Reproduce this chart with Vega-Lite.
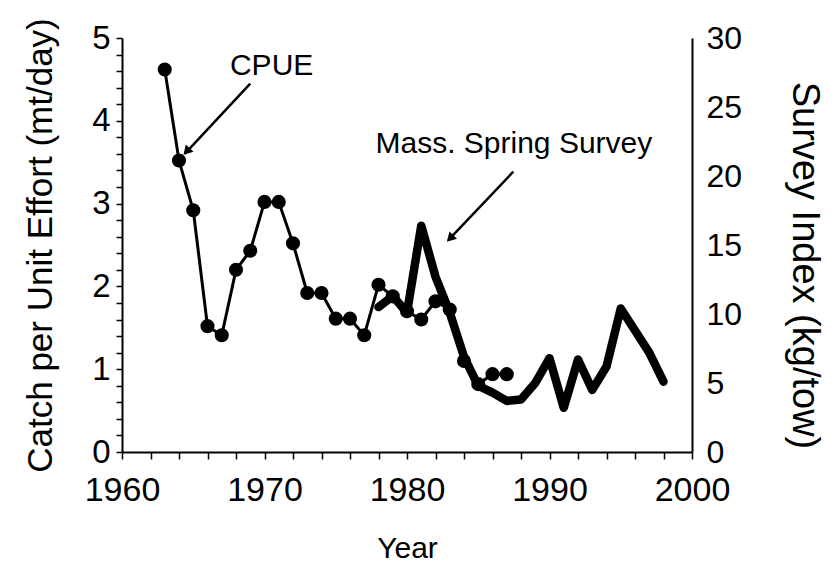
{
  "$schema": "https://vega.github.io/schema/vega-lite/v6.json",
  "width": 570,
  "height": 414,
  "autosize": "none",
  "padding": {"left": 122, "top": 38, "right": 144, "bottom": 111},
  "background": "white",
  "config": {
    "view": {"stroke": null},
    "font": "Liberation Sans",
    "axis": {"domainColor": "black", "domainWidth": 2, "tickColor": "black", "tickWidth": 1.5, "labelColor": "black", "titleColor": "black", "labelFont": "Liberation Sans", "titleFont": "Liberation Sans", "labelFontSize": 33, "titleFontSize": 30, "titleFontWeight": "normal", "grid": false}
  },
  "datasets": {
    "cpue": [
      {"year": 1963, "v": 4.62}, {"year": 1964, "v": 3.52}, {"year": 1965, "v": 2.92},
      {"year": 1966, "v": 1.52}, {"year": 1967, "v": 1.41}, {"year": 1968, "v": 2.2},
      {"year": 1969, "v": 2.43}, {"year": 1970, "v": 3.02}, {"year": 1971, "v": 3.02},
      {"year": 1972, "v": 2.52}, {"year": 1973, "v": 1.92}, {"year": 1974, "v": 1.92},
      {"year": 1975, "v": 1.61}, {"year": 1976, "v": 1.61}, {"year": 1977, "v": 1.41},
      {"year": 1978, "v": 2.02}, {"year": 1979, "v": 1.88}, {"year": 1980, "v": 1.7},
      {"year": 1981, "v": 1.6}, {"year": 1982, "v": 1.82}, {"year": 1983, "v": 1.72},
      {"year": 1984, "v": 1.1}, {"year": 1985, "v": 0.82}, {"year": 1986, "v": 0.94},
      {"year": 1987, "v": 0.94}
    ],
    "survey": [
      {"year": 1978, "s": 10.5}, {"year": 1979, "s": 11.3}, {"year": 1980, "s": 10.1},
      {"year": 1981, "s": 16.4}, {"year": 1982, "s": 12.7}, {"year": 1983, "s": 10.1},
      {"year": 1984, "s": 6.9}, {"year": 1985, "s": 4.8}, {"year": 1986, "s": 4.3},
      {"year": 1987, "s": 3.7}, {"year": 1988, "s": 3.8}, {"year": 1989, "s": 5.0},
      {"year": 1990, "s": 6.8}, {"year": 1991, "s": 3.2}, {"year": 1992, "s": 6.7},
      {"year": 1993, "s": 4.5}, {"year": 1994, "s": 6.2}, {"year": 1995, "s": 10.4},
      {"year": 1996, "s": 8.8}, {"year": 1997, "s": 7.2}, {"year": 1998, "s": 5.1}
    ],
    "labels": [
      {"year": 1970.5, "v": 4.66, "text": "CPUE"},
      {"year": 1987.5, "v": 3.72, "text": "Mass. Spring Survey"}
    ],
    "arrows": [
      {"year": 1969.0, "v": 4.45, "year2": 1964.4, "v2": 3.6},
      {"year": 1987.46, "v": 3.385, "year2": 1982.9, "v2": 2.56}
    ],
    "heads": [
      {"year": 1964.53, "v": 3.63, "angle": 223},
      {"year": 1983.02, "v": 2.58, "angle": 224}
    ]
  },
  "encoding": {
    "x": {"field": "year", "type": "quantitative", "scale": {"domain": [1960, 2000], "nice": false, "zero": false},
          "axis": {"title": "Year", "values": [1960,1962,1964,1966,1968,1970,1972,1974,1976,1978,1980,1982,1984,1986,1988,1990,1992,1994,1996,1998,2000],
                   "tickMinStep": 0.5, "labelFontSize": 34, "labelExpr": "datum.value % 10 == 0 ? datum.label : ''", "format": "d", "tickSize": 7, "labelPadding": 14, "titlePadding": 26, "labelFlush": false, "labelOverlap": false}}
  },
  "layer": [
    {
      "encoding": {
        "y": {"field": "v", "type": "quantitative", "scale": {"domain": [0, 5], "nice": false},
              "axis": {"title": "Catch per Unit Effort (mt/day)", "titleFontSize": 35, "values": [0,0.2,0.4,0.6,0.8,1,1.2,1.4,1.6,1.8,2,2.2,2.4,2.6,2.8,3,3.2,3.4,3.6,3.8,4,4.2,4.4,4.6,4.8,5],
                       "tickMinStep": 0.1, "tickCount": 60, "labelExpr": "datum.value % 1 == 0 ? format(datum.value, 'd') : ''", "tickSize": 6, "labelPadding": 6, "titlePadding": 33, "labelFlush": false, "labelOverlap": false}}
      },
      "layer": [
        {
          "data": {"name": "cpue"},
          "mark": {"type": "line", "color": "black", "strokeWidth": 3}
        },
        {
          "data": {"name": "cpue"},
          "mark": {"type": "point", "filled": true, "color": "black", "opacity": 1, "size": 200}
        },
        {
          "data": {"name": "labels"},
          "mark": {"type": "text", "fontSize": 30, "font": "Liberation Sans", "color": "black", "align": "center", "baseline": "middle"},
          "encoding": {"text": {"field": "text"}}
        },
        {
          "data": {"name": "arrows"},
          "mark": {"type": "rule", "color": "black", "strokeWidth": 2.5},
          "encoding": {"x2": {"field": "year2"}, "y2": {"field": "v2"}}
        },
        {
          "data": {"name": "heads"},
          "mark": {"type": "point", "shape": "triangle-up", "filled": true, "color": "black", "opacity": 1, "size": 110},
          "encoding": {"angle": {"field": "angle", "type": "quantitative", "scale": null}}
        }
      ]
    },
    {
      "data": {"name": "survey"},
      "mark": {"type": "line", "color": "black", "strokeWidth": 8.5, "strokeCap": "round", "strokeJoin": "round"},
      "encoding": {
        "y": {"field": "s", "type": "quantitative", "scale": {"domain": [0, 30], "nice": false},
              "axis": {"orient": "right", "title": "Survey Index (kg/tow)", "titleFontSize": 38, "titleY": 227, "labelFontSize": 32, "values": [0,5,10,15,20,25,30], "format": "d", "ticks": false, "labelPadding": 14, "titlePadding": 43, "labelFlush": false, "labelOverlap": false}}
      }
    }
  ],
  "resolve": {"scale": {"y": "independent"}}
}
